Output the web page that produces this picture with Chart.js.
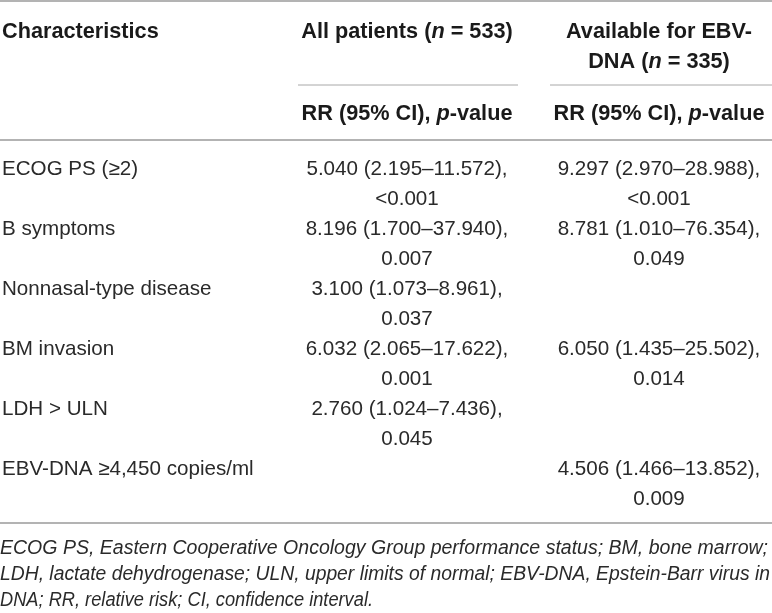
<!DOCTYPE html>
<html>
<head>
<meta charset="utf-8">
<script src="https://cdn.jsdelivr.net/npm/chart.js@4.4.1/dist/chart.umd.min.js"></script>
<style>
  html, body { margin: 0; padding: 0; background: #ffffff; }
  #wrap { width: 772px; height: 613px; position: relative; }
  canvas { display: block; }
</style>
</head>
<body>
<div id="wrap"><canvas id="c" width="772" height="613"></canvas></div>
<script>
// ---------- data ----------
const characteristics = ['ECOG PS (≥2)', 'B symptoms', 'Nonnasal-type disease', 'BM invasion', 'LDH > ULN', 'EBV-DNA ≥4,450 copies/ml'];
const columnHeaders = ['Characteristics', 'All patients (*n* = 533)', 'Available for EBV-|DNA (*n* = 335)'];
const subHeader = 'RR (95% CI), *p*-value';

const allRR = [5.040, 8.196, 3.100, 6.032, 2.760, null];
const allLower = [2.195, 1.700, 1.073, 2.065, 1.024, null];
const allUpper = [11.572, 37.940, 8.961, 17.622, 7.436, null];
const allP = ['<0.001', '0.007', '0.037', '0.001', '0.045', null];

const ebvRR = [9.297, 8.781, null, 6.050, null, 4.506];
const ebvLower = [2.970, 1.010, null, 1.435, null, 1.466];
const ebvUpper = [28.988, 76.354, null, 25.502, null, 13.852];
const ebvP = ['<0.001', '0.049', null, '0.014', null, '0.009'];

const footnoteLines = [
  'ECOG PS, Eastern Cooperative Oncology Group performance status; BM, bone marrow;',
  'LDH, lactate dehydrogenase; ULN, upper limits of normal; EBV-DNA, Epstein-Barr virus in',
  'DNA; RR, relative risk; CI, confidence interval.'
];

// ---------- layout (positions & styles) ----------
const FONT = '"Liberation Sans", Arial, Helvetica, sans-serif';
const L = {
  col1Left: 2, col2Center: 407, col3Center: 659,
  topRule: 1, head1: 30, head2: 60, shortRule: 85, subHead: 112, headRule: 140,
  bodyStart: 168, pitch: 30, bottomRule: 523,
  foot: [547, 573, 599], footWidths: [768, 770, 373],
  col2Rule: [298, 518], col3Rule: [550, 772]
};

function segs(str) {
  return str.split('*').map((t, i) => ({ t, it: i % 2 === 1 }));
}
function fmt(rr, lo, hi) {
  return rr.toFixed(3) + ' (' + lo.toFixed(3) + '–' + hi.toFixed(3) + '),';
}

function drawRich(ctx, str, x, yc, align, size, bold, color) {
  const parts = segs(str);
  const fontFor = p => (p.it ? 'italic ' : '') + (bold ? 'bold ' : '') + size + 'px ' + FONT;
  let total = 0;
  parts.forEach(p => { ctx.font = fontFor(p); p.w = ctx.measureText(p.t).width; total += p.w; });
  let cx = align === 'center' ? x - total / 2 : x;
  ctx.fillStyle = color;
  ctx.textAlign = 'left';
  ctx.textBaseline = 'alphabetic';
  const base = yc + size * 0.36;
  parts.forEach(p => { ctx.font = fontFor(p); ctx.fillText(p.t, cx, base); cx += p.w; });
}

const tablePlugin = {
  id: 'tablePlugin',
  afterDraw(chart) {
    const ctx = chart.ctx;
    const xs = chart.scales.x, ys = chart.scales.y;
    const X = v => xs.getPixelForValue(v);
    const Y = v => ys.getPixelForValue(v);
    ctx.save();

    // rules
    function rule(y, x0, x1, w, col) {
      ctx.beginPath();
      ctx.strokeStyle = col; ctx.lineWidth = w;
      ctx.moveTo(X(x0), Y(y)); ctx.lineTo(X(x1), Y(y)); ctx.stroke();
    }
    rule(L.topRule, 0, 772, 1.5, '#9a9a9a');
    rule(L.shortRule, L.col2Rule[0], L.col2Rule[1], 1, '#a8a8a8');
    rule(L.shortRule, L.col3Rule[0], L.col3Rule[1], 1, '#a8a8a8');
    rule(L.headRule, 0, 772, 1.5, '#9a9a9a');
    rule(L.bottomRule, 0, 772, 1.5, '#9a9a9a');

    // headers
    const HS = 21.7, HC = '#1a1a1a';
    drawRich(ctx, columnHeaders[0], X(L.col1Left), Y(L.head1), 'left', HS, true, HC);
    drawRich(ctx, columnHeaders[1], X(L.col2Center), Y(L.head1), 'center', HS, true, HC);
    const h3 = columnHeaders[2].split('|');
    drawRich(ctx, h3[0], X(L.col3Center), Y(L.head1), 'center', HS, true, HC);
    drawRich(ctx, h3[1], X(L.col3Center), Y(L.head2), 'center', HS, true, HC);
    drawRich(ctx, subHeader, X(L.col2Center), Y(L.subHead), 'center', HS, true, HC);
    drawRich(ctx, subHeader, X(L.col3Center), Y(L.subHead), 'center', HS, true, HC);

    // body
    const BS = 20.6, BC = '#2a2a2a';
    characteristics.forEach((name, i) => {
      const y1 = L.bodyStart + 2 * i * L.pitch;
      const y2 = y1 + L.pitch;
      drawRich(ctx, name, X(L.col1Left), Y(y1), 'left', BS, false, BC);
      if (allRR[i] !== null) {
        drawRich(ctx, fmt(allRR[i], allLower[i], allUpper[i]), X(L.col2Center), Y(y1), 'center', BS, false, BC);
        drawRich(ctx, allP[i], X(L.col2Center), Y(y2), 'center', BS, false, BC);
      }
      if (ebvRR[i] !== null) {
        drawRich(ctx, fmt(ebvRR[i], ebvLower[i], ebvUpper[i]), X(L.col3Center), Y(y1), 'center', BS, false, BC);
        drawRich(ctx, ebvP[i], X(L.col3Center), Y(y2), 'center', BS, false, BC);
      }
    });

    // footnote (italic, fitted to the reference line lengths)
    const FS = 19.5;
    ctx.font = 'italic ' + FS + 'px ' + FONT;
    ctx.fillStyle = '#2a2a2a';
    ctx.textAlign = 'left';
    ctx.textBaseline = 'alphabetic';
    footnoteLines.forEach((line, i) => {
      const w = ctx.measureText(line).width;
      const k = L.footWidths[i] / w;
      ctx.save();
      ctx.translate(X(0), Y(L.foot[i]) + FS * 0.36);
      ctx.scale(k, 1);
      ctx.fillText(line, 0, 0);
      ctx.restore();
    });
    ctx.restore();
  }
};

new Chart(document.getElementById('c'), {
  type: 'scatter',
  data: { datasets: [] },
  options: {
    responsive: false,
    animation: false,
    devicePixelRatio: 1,
    layout: { padding: 0 },
    plugins: { legend: { display: false }, tooltip: { enabled: false }, title: { display: false } },
    scales: {
      x: { type: 'linear', min: 0, max: 772, display: false },
      y: { type: 'linear', min: 0, max: 613, reverse: true, display: false }
    }
  },
  plugins: [tablePlugin]
});
</script>
</body>
</html>
